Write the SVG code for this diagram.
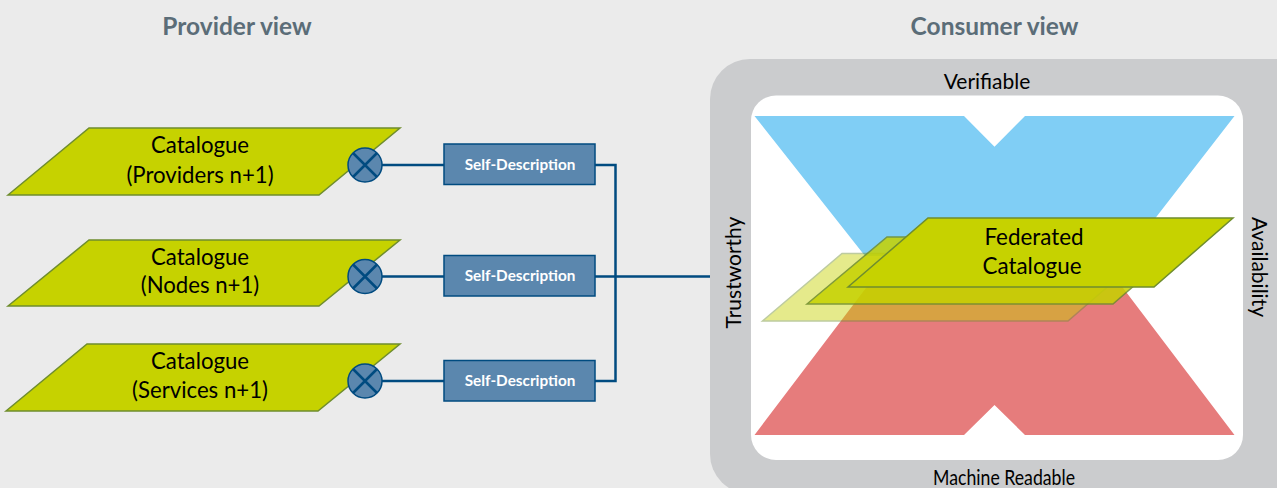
<svg xmlns="http://www.w3.org/2000/svg" width="1277" height="488" viewBox="0 0 1277 488">
<style>
text{font-family:Lato,"Noto Sans","Liberation Sans",sans-serif;text-anchor:middle;fill:#000}
.h{font-size:24.500px;font-weight:700;fill:#5b6d78}
.l{font-size:22.200px}
.f{font-size:22.400px}
.p{fill:#c6d200;stroke:#6f8d2e;stroke-width:1.5}
.sd rect{fill:#5b87ae;stroke:#004b80;stroke-width:1.5}
.sd text{font-size:15.300px;font-weight:700;fill:#fff}
.c circle{fill:#5b87ae;stroke:#004b80;stroke-width:1.5}
.c path{stroke:#004b80;stroke-width:2.5;fill:none}
#connectors path{stroke:#004b80;stroke-width:2.5;fill:none}
.s{font-size:21px}
</style>
<rect width="1277" height="488" fill="#ebebeb"/>
<text class="h" x="237" y="34.500">Provider view</text>
<text class="h" x="994.500" y="34.500">Consumer view</text>
<g id="frame">
<rect x="710" y="59" width="610" height="435" rx="40" fill="#cbccce"/>
<rect x="751" y="95.500" width="492" height="364.500" rx="25" fill="#fff"/>
<text class="s" x="987" y="89">Verifiable</text>
<text class="s" x="1004" y="484.500" textLength="142" lengthAdjust="spacingAndGlyphs">Machine Readable</text>
<text class="s" transform="translate(741 272.500) rotate(-90)">Trustworthy</text>
<text class="s" transform="translate(1252 267) rotate(90)">Availability</text>
</g>
<g id="verifiable-shape"><polygon points="754.500,116 964,116 994.500,146.700 1025,116 1234.500,116 1126,256 865,256" fill="#80cef5"/></g>
<g id="readable-shape"><polygon points="754.500,435 872,280 1117,280 1234.500,435 1025,435 994.500,405 964,435" fill="#e67c7c"/></g>
<g id="back-plane" opacity=".45"><polygon class="p" points="762.500,321 842,253.500 1146,253.500 1068,321"/></g>
<g id="middle-plane" opacity=".85"><polygon class="p" points="807,304 887,237 1190,237 1113,304"/></g>
<g id="federated"><polygon class="p" points="848,287 928,218 1233,218 1154,287"/>
<text class="f" x="1034" y="245">Federated</text><text class="f" x="1032" y="274">Catalogue</text></g>
<g id="connectors">
<path d="M382 165H444M382 276.500H444M382 381H444"/>
<path d="M595 165H615.500V381H595M595 276.500H710"/>
</g>
<g id="cat1"><polygon class="p" points="8,195 89,128 400,128 319,195"/><text class="l" x="200" y="153">Catalogue</text><text class="l" x="200" y="183">(Providers n+1)</text></g>
<g id="cat2"><polygon class="p" points="8,306 89,240 400,240 319,306"/><text class="l" x="200" y="265">Catalogue</text><text class="l" x="200" y="293">(Nodes n+1)</text></g>
<g id="cat3"><polygon class="p" points="6,411 87,344 400,344 318,411"/><text class="l" x="200" y="369">Catalogue</text><text class="l" x="200" y="398">(Services n+1)</text></g>
<g id="x1" class="c"><circle cx="365" cy="165" r="17"/><path d="M353 153L377 177M377 153L353 177"/></g>
<g id="x2" class="c"><circle cx="365" cy="276.500" r="17"/><path d="M353 264.500L377 288.500M377 264.500L353 288.500"/></g>
<g id="x3" class="c"><circle cx="365" cy="381" r="17"/><path d="M353 369L377 393M377 369L353 393"/></g>
<g id="sd1" class="sd"><rect x="444" y="144" width="151" height="40.500"/><text x="520" y="170">Self-Description</text></g>
<g id="sd2" class="sd"><rect x="444" y="255.500" width="151" height="40.500"/><text x="520" y="281">Self-Description</text></g>
<g id="sd3" class="sd"><rect x="444" y="360.500" width="151" height="40.500"/><text x="520" y="386">Self-Description</text></g>
</svg>
